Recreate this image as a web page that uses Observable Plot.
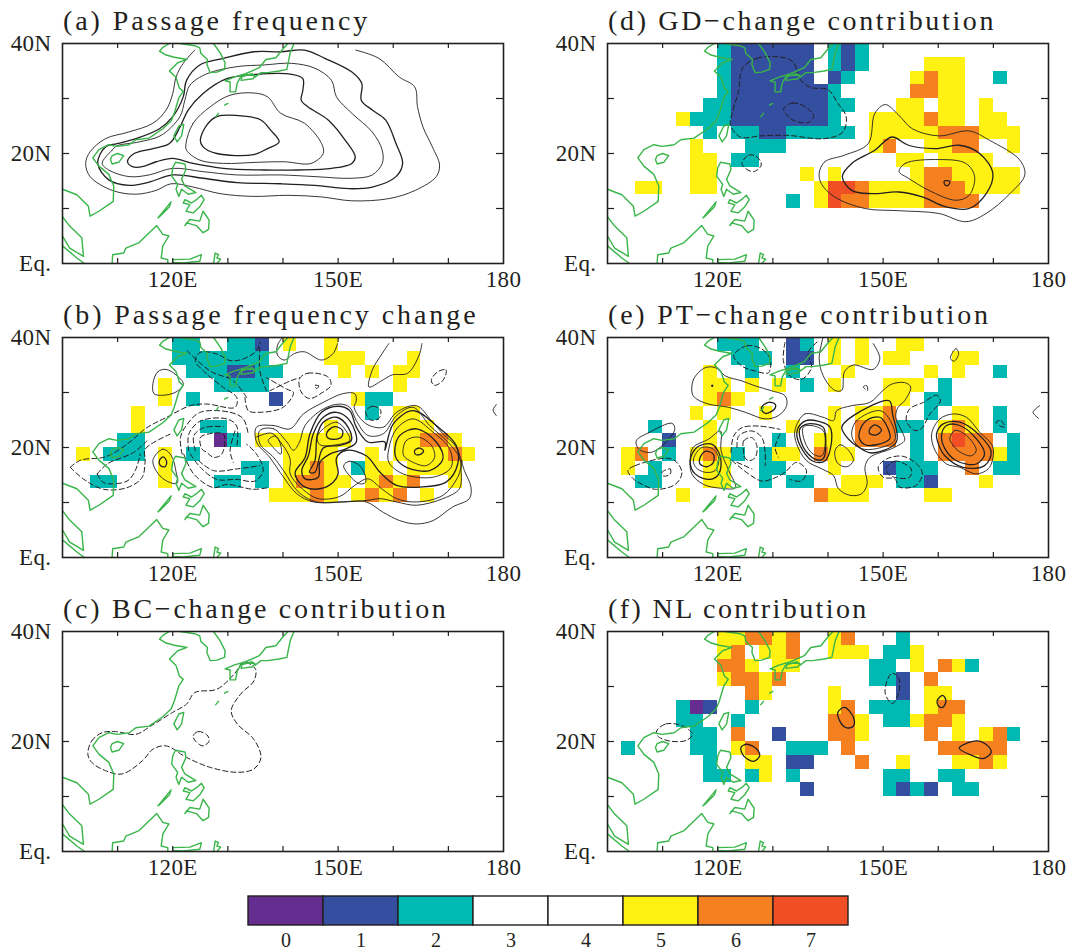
<!DOCTYPE html>
<html><head><meta charset="utf-8">
<script src="https://cdn.jsdelivr.net/npm/d3@7"></script>
<script src="https://cdn.jsdelivr.net/npm/@observablehq/plot@0.6"></script>
<style>
html,body{margin:0;padding:0;background:#fff;width:1067px;height:951px;overflow:hidden}
#page{position:relative;width:1067px;height:951px}
#page svg{position:absolute;background:transparent;overflow:visible}
.ttl{position:absolute;font:28px "Liberation Serif",serif;letter-spacing:2.93px;color:#231f20;white-space:pre;line-height:30px}
</style></head><body><div id="page"></div>
<script>
// ---------- legend ----------
const levels=[0,1,2,3,4,5,6,7];
const levelColors=["#662d91","#344ea0","#00b9b2","#ffffff","#ffffff","#fff212","#f58020","#f04e25"];
// ---------- ticks ----------
const lonTicks=[110,120,130,140,150,160,170];
const latTicks=[10,20,30];
const lonLabelTicks=[120,150,180];
const lonLabels=["120E","150E","180"];
const latLabelTicks=[0,20,40];
const latLabels=["Eq.","20N","40N"];
// ---------- coastline (lon,lat) ----------
const coastOpen=[
[[119.4,40],[118.2,39.3],[117.6,38.6],[118.8,37.9],[120.3,37.5],[122.6,37.1],[120.9,36.5],[119.4,35],[120.6,33.8],[121.2,31.9],[121.9,31.3],[121.1,30.1],[120.3,27.4],[119.7,25.9],[118.2,24.5],[115.7,22.8],[113.3,22.5],[112.1,21.6],[109.9,21.3],[108.4,21.6],[106.6,20.7],[105.5,19.2],[106.6,17.7],[108.4,16.2],[109.3,14.1],[109.2,11.3],[106.6,9.5],[105,8.6],[104.7,10.4],[102.6,12.5],[100,13.5]],
[[121.3,40],[124,39.6],[124.9,39.2],[125.1,38.2],[126.3,37.1],[126.2,36.2],[126.8,34.7],[128,34.8],[129.4,35.3],[129.5,36.5],[128.6,38.3],[127.4,40]],
[[140.9,40],[139.9,38.9],[138.7,37.4],[136.9,37.1],[135.7,35.6],[133.2,34.5],[131.1,33.9],[129.5,33.2],[130.4,33],[130.4,31.2],[131.4,31.2],[131.7,32.8],[132.3,33.9],[134.4,34.5],[135,33.9],[136,34.7],[137.2,34.7],[139.3,35],[140.7,35.3],[141.3,38.3],[142,40]],
[[109,0],[109.1,1.6],[111.1,1.9],[111.5,2.8],[113.9,3.8],[117.1,6.9],[118.2,5.3],[119.3,5],[118.2,3.2],[117.9,1],[119.1,0.7],[119.1,0]],
[[100,8.5],[101.3,6.8],[103.5,4.7],[103.8,1.3],[101.3,2.8],[100,5]],
[[100,3.2],[102.6,1],[104,0]],
[[120,0],[120,0.7],[123.1,0.8],[125.2,1.6],[124.9,0.4],[121.9,0.1],[120,0.2]],
[[127.4,0],[127.7,1.9],[128.3,1.6],[128,1],[128.7,0.8],[128,0]],
[[129.4,28.8],[130,29.1]],
[[127.8,26.7],[128.3,27.3]]
];
const coastClosed=[
[[132.4,33.3],[134.6,33.6],[134.9,34.2],[132.6,34.2]],
[[122,25.3],[121.1,25],[120.2,23.2],[120.8,22.1],[121.6,23.2]],
[[109,19.6],[110,20],[111.1,19.6],[110.2,18.4],[109,18.1],[108.7,18.9]],
[[120.5,18.4],[122.2,18.1],[122.4,17.1],[121.6,15.3],[122.2,14.1],[124.2,12.9],[122.8,12.6],[121.6,13.5],[121.1,12.2],[120.6,13.5],[120.9,14.4],[119.8,15.9],[120,17.4]],
[[122.2,11.6],[123.4,11],[124.3,11.6],[125.2,12.4],[125.7,11.6],[124.9,10.3],[123.7,9.2],[122.4,9.5],[123.1,10.7],[121.9,11]],
[[122.2,6.9],[123.1,8],[124.9,7.7],[125.5,9.5],[126.6,7.9],[126.5,6.2],[125.5,5.6],[124.3,6.9],[122.5,7.4]],
[[117.3,8.3],[119.7,11.2],[119.4,10.3],[117.6,8.5]]
];
// ---------- shaded cells: [row from north, first col, last col, level] on a 2.5 degree grid ----------
const bRuns=[[0,8,9,2],[0,12,13,2],[0,14,14,1],[0,16,16,5],[0,19,19,5],[1,8,14,2],[1,19,21,5],[1,25,25,5],[2,9,11,2],[2,12,13,1],[2,14,15,2],[2,20,20,5],[2,22,22,5],[2,24,25,5],[3,7,7,5],[3,11,14,2],[3,24,24,5],[4,7,7,5],[4,9,9,2],[4,15,15,1],[4,21,21,5],[4,22,23,2],[5,5,5,5],[5,22,22,2],[5,24,25,5],[6,5,5,5],[6,10,11,2],[6,19,19,5],[6,24,26,5],[7,4,5,2],[7,11,11,0],[7,12,12,2],[7,14,20,5],[7,24,25,5],[7,26,27,6],[7,28,28,5],[8,1,1,5],[8,3,5,2],[8,7,7,5],[8,9,9,2],[8,16,19,5],[8,22,22,5],[8,24,27,5],[8,28,28,6],[8,29,29,5],[9,7,7,5],[9,13,14,2],[9,16,17,5],[9,18,18,6],[9,19,19,5],[9,21,21,2],[9,22,23,5],[9,25,28,5],[10,2,3,2],[10,7,7,5],[10,11,12,2],[10,14,14,2],[10,16,16,5],[10,17,18,6],[10,19,20,5],[10,22,22,5],[10,23,23,6],[10,24,24,5],[10,25,25,6],[10,28,28,5],[11,15,17,5],[11,18,18,6],[11,19,19,5],[11,21,21,5],[11,22,22,6],[11,23,23,5],[11,24,24,6],[11,26,26,5]];
const dRuns=[[0,8,8,2],[0,9,14,1],[0,16,16,2],[0,17,17,1],[0,18,18,2],[1,8,8,2],[1,9,14,1],[1,16,16,2],[1,17,17,1],[1,18,18,2],[1,23,25,5],[2,8,8,2],[2,9,14,1],[2,16,16,1],[2,17,17,2],[2,22,22,5],[2,23,23,6],[2,24,25,5],[2,28,28,2],[3,8,8,2],[3,9,15,1],[3,16,16,2],[3,22,23,6],[3,24,25,5],[4,7,8,2],[4,9,15,1],[4,16,17,2],[4,21,22,5],[4,24,25,5],[4,27,27,5],[5,5,5,5],[5,6,8,2],[5,9,15,1],[5,16,16,2],[5,19,22,5],[5,23,23,6],[5,24,25,5],[5,27,28,5],[6,7,7,2],[6,9,10,2],[6,11,12,1],[6,13,17,2],[6,19,23,5],[6,24,26,6],[6,27,29,5],[7,6,6,5],[7,10,12,2],[7,19,19,5],[7,20,20,6],[7,23,24,5],[7,25,26,6],[7,29,29,5],[8,6,7,5],[8,9,10,2],[8,21,22,5],[8,24,27,5],[9,6,7,5],[9,14,14,5],[9,16,16,5],[9,22,22,5],[9,23,24,6],[9,25,29,5],[10,2,3,5],[10,6,7,5],[10,15,15,5],[10,16,17,7],[10,18,18,6],[10,19,22,5],[10,23,25,6],[10,26,29,5],[11,13,13,2],[11,15,15,5],[11,16,16,7],[11,17,18,6],[11,19,22,5],[11,23,26,6]];
const eRuns=[[0,8,10,2],[0,13,13,1],[0,14,14,2],[0,16,16,5],[0,18,18,5],[0,21,22,5],[1,9,11,2],[1,13,14,1],[1,16,16,5],[1,18,18,5],[1,20,21,5],[1,25,26,5],[2,7,7,5],[2,10,10,2],[2,13,13,2],[2,17,17,5],[2,23,23,5],[2,25,25,5],[2,28,28,2],[3,7,8,5],[3,10,10,5],[3,12,12,5],[3,14,14,2],[3,16,16,5],[3,20,22,5],[3,24,24,2],[4,7,7,5],[4,8,8,6],[4,9,9,5],[4,20,21,5],[4,23,24,2],[5,6,6,5],[5,8,8,5],[5,11,11,5],[5,16,16,5],[5,18,19,5],[5,20,20,6],[5,23,23,2],[5,25,26,5],[5,28,28,2],[6,3,3,2],[6,7,7,5],[6,13,13,5],[6,16,16,5],[6,18,20,6],[6,21,22,2],[6,24,24,5],[6,25,25,6],[6,26,26,5],[6,28,28,2],[7,4,4,1],[7,7,7,5],[7,12,12,2],[7,15,16,5],[7,18,20,6],[7,22,22,2],[7,24,24,6],[7,25,25,7],[7,26,27,6],[7,29,29,2],[8,1,1,5],[8,2,2,6],[8,4,4,2],[8,6,6,5],[8,7,7,6],[8,8,8,5],[8,9,9,2],[8,11,11,2],[8,12,13,5],[8,15,15,6],[8,16,17,5],[8,22,22,2],[8,24,27,6],[8,28,28,5],[8,29,29,2],[9,1,1,5],[9,3,3,2],[9,7,8,5],[9,11,12,2],[9,16,16,5],[9,20,20,1],[9,21,23,2],[9,26,26,6],[9,28,29,2],[10,2,3,2],[10,7,8,5],[10,11,11,2],[10,13,14,2],[10,17,19,5],[10,21,22,2],[10,23,23,1],[10,27,27,5],[11,5,5,5],[11,15,15,6],[11,16,18,5],[11,23,24,5]];
const fRuns=[[0,8,9,5],[0,10,11,6],[0,12,12,5],[0,13,13,6],[0,16,16,5],[0,17,17,6],[0,21,21,2],[1,8,8,5],[1,9,9,6],[1,11,12,5],[1,13,13,6],[1,16,18,5],[1,20,21,2],[1,22,22,5],[2,8,9,6],[2,10,10,5],[2,12,13,5],[2,19,20,2],[2,22,22,5],[2,24,24,6],[2,25,25,5],[2,26,26,2],[3,8,8,5],[3,9,10,6],[3,11,11,5],[3,12,12,6],[3,19,20,2],[3,21,21,1],[3,23,23,6],[4,10,10,6],[4,11,11,5],[4,16,16,5],[4,21,21,1],[4,23,24,5],[5,5,5,2],[5,6,6,0],[5,7,7,1],[5,10,10,2],[5,16,16,5],[5,17,17,6],[5,19,21,2],[5,23,23,5],[5,24,25,6],[6,5,6,2],[6,9,9,2],[6,16,17,6],[6,18,18,5],[6,20,21,2],[6,22,22,5],[6,23,24,6],[6,25,25,5],[7,6,7,2],[7,9,9,6],[7,12,12,1],[7,16,17,6],[7,18,18,5],[7,23,23,6],[7,25,25,5],[7,27,27,5],[7,28,28,6],[7,29,29,2],[8,1,1,2],[8,6,7,2],[8,9,9,5],[8,10,10,6],[8,13,15,2],[8,17,17,6],[8,24,28,6],[9,7,7,2],[9,10,11,5],[9,13,14,1],[9,18,18,6],[9,21,21,5],[9,25,26,5],[9,27,27,6],[9,28,28,5],[10,7,8,2],[10,10,10,2],[10,11,11,5],[10,13,13,2],[10,20,21,2],[10,24,25,2],[11,14,14,1],[11,20,20,2],[11,21,21,1],[11,22,22,2],[11,23,23,1],[11,25,26,2]];
// ---------- contours (lon,lat) ----------
const aOpenThin=[[[124,38.8],[121.9,36.4],[120.6,33.9],[120,30.9],[118.8,27.9],[116.4,25.5],[112,23.9],[107.8,22.7],[105,20.3],[104.2,18.2],[105,15.8],[109,13.3],[113.3,12.6],[117,13.3],[119.7,14.5],[123.7,13.9],[128.6,12.7],[134.7,12.2],[140.9,12.4],[147,12.1],[152.5,11.4],[159.2,11.8],[164,13.3],[167.8,15.8],[168.4,17.9],[167.1,21.2],[165.4,24.8],[164.4,28.5],[163.9,32.1],[161.1,33.9],[157.4,37.3],[153.2,38.8]]];
const aClosedThin=[
[[107.2,18.2],[109,20.6],[109.9,21.4],[113.9,22.1],[117.9,23.3],[121.3,26.7],[122.2,29.7],[123.1,32.4],[126.2,34.5],[131.7,35.8],[136.6,36.1],[141.5,36.4],[145.8,35.5],[148.8,33.3],[149.7,30.3],[152.5,27.3],[156.2,23.9],[158,20.6],[158,18.2],[156.2,16.1],[152.5,15.5],[145.8,15.8],[139.6,16.1],[131.7,16.1],[125.5,16.7],[120,17.3],[115.7,16.1],[112.1,15.8],[108.4,17]],
[[122.4,21.8],[123.7,25.5],[126.8,28.5],[130.4,30.6],[134.7,31],[137.2,30.3],[139.6,27.3],[143.9,25.5],[147,21.8],[147.3,20],[145.1,18.2],[140.2,18.5],[135.3,18.4],[129.2,18.2],[124.9,18.8],[122.5,20.6]]
];
const aClosedBold=[
[[106.4,18.2],[107.8,21.2],[109.9,21.8],[113.3,22.7],[117.6,24.5],[120,26.7],[121.9,30.3],[122.5,33.3],[124.9,36.1],[129.2,37.3],[134.7,38.5],[139.6,38.5],[143.9,38.8],[147.6,37.3],[152.5,34.8],[154.3,32.7],[154.2,29.7],[156.2,27.9],[158.6,26.1],[160.5,21.8],[161.7,18.2],[160.5,15.8],[156.2,13.9],[151.9,13.6],[145.8,14.2],[139.6,14.5],[131.7,14.7],[125.5,15.5],[120,16.1],[115.7,14.8],[112.1,14.2],[108.4,15.2]],
[[111.8,18.5],[113,20],[116.4,20.9],[119.4,21.8],[121.3,24.8],[122.8,27.9],[125.5,30.9],[129.8,33.6],[135.3,34.4],[141.5,34.4],[143.6,33.6],[143.6,31.5],[143.3,29.7],[144.5,28.5],[148.2,26.1],[151.3,22.4],[153.1,19.4],[152.5,18.2],[148.8,17.3],[142.7,17],[136.6,17],[129.2,17.3],[123.7,18.2],[120,19.1],[117,18.5],[114.5,17.6],[112.7,17.6]],
[[125,22.4],[126.2,25.2],[128,26.7],[132.9,26.8],[136,26.1],[137.8,24.2],[139.3,22.1],[137.2,20.9],[134.7,19.8],[128,20],[125.5,21.2]]
];
const bClosedThin=[
[[135.2,23.7],[138.2,24],[141.3,23.4],[143.7,26.1],[147.3,28.2],[150.9,29.8],[153,29.8],[153.3,28.5],[152.9,27.3],[155.1,24.3],[158.2,23.7],[160.6,26.4],[164.2,27.6],[166.9,24.9],[169,22.5],[171.4,20.1],[172.9,15.8],[174.1,12.8],[173.8,10.7],[170.8,9.2],[167.2,6.7],[164.2,6.1],[161.2,6.7],[158.2,8.2],[155.1,10.1],[150.3,10.1],[145.5,10.1],[142.5,11.6],[140.1,14.6],[137.6,18.2],[135.2,21]],
[[135.8,23.1],[138.3,23.4],[140.7,21],[141.9,19.5],[143,21],[144,24],[147.3,27],[150.3,27.9],[152.1,27.3],[153.3,24.9],[155.4,22.2],[158.2,22.5],[160.6,25.8],[163.6,27.3],[166.6,24],[169.9,21],[172,18.2],[172.3,15.8],[172,12.5],[169,10.7],[164.2,9.5],[160.6,10.1],[157.6,10.7],[155.4,10.4],[150.9,10.1],[146.1,10.1],[142.8,11.9],[140.1,15.8],[138.3,18.2],[135.8,20.7]],
[[137.3,21.3],[138.6,22.1],[139.6,20.4],[139.6,18.8],[137.9,20.4]],
[[151,16.7],[152.1,17.5],[154.2,16.4],[155,13.7],[153.9,13.4],[151.8,15.2]],
[[116.4,31.6],[117.3,33.8],[118.8,34.2],[120.6,33.2],[121.9,31.6],[120.6,30.1],[118.2,29.5],[116.6,29.8]],
[[116.4,17.7],[118.2,19.7],[119.7,18.6],[120.6,15.6],[120.8,13.5],[119.1,13.8],[117.3,15.3]],
[[147.3,23.4],[149.7,24.6],[151.6,22.8],[152.1,21.3],[149.7,20.5],[146.7,20.5],[146.2,21.9]],
[[161.8,19.8],[162.4,21.3],[164.5,21.9],[166.9,20.4],[167.5,18.2],[166,16.7],[163,17.6],[161.9,18.5]],
[[159.2,19.8],[160.6,23.4],[163.6,25.2],[167.2,22.8],[170.2,19.8],[170.5,16.4],[167.2,14.6],[161.8,15.2],[159.2,17.3]]
];
const bClosedBold=[
[[158.5,19.5],[160,24.3],[163.6,26.7],[167.8,24],[171.4,20.4],[171.7,17],[169.6,13.7],[164.8,12.8],[160.6,13.1],[157.6,15.5],[155.1,18.5],[151.5,19.5],[149.7,18.1],[150,15.2],[149.1,13.7],[146.7,12.5],[144,12.8],[142.5,14.3],[142.2,15.5],[144,18.2],[144.9,22.5],[147,26.4],[150,27.5],[152.1,26.7],[153.3,23.7],[155.4,21],[158.5,21]],
[[143.4,15.8],[144.6,18.5],[145.5,22.5],[147.3,25.5],[149.7,26.4],[152.1,24.9],[153.3,21],[151.5,19.8],[148.5,18.8],[146.7,17.3],[146.4,14.6],[144,14.3]],
[[144.8,15.5],[145.8,17.6],[146.2,22.2],[147.3,24.6],[149.7,25.5],[151.8,23.7],[152.4,21.3],[150.3,20.4],[147.3,19.9],[145.8,15.5]],
[[148,22.8],[149.4,23.8],[150.8,23.1],[150.6,21.9],[149.1,21.5],[148,21.9]],
[[163.9,19.5],[164.8,19.9],[165.5,19.3],[164.8,18.7],[164,18.8]],
[[160.3,19.8],[161.2,22.2],[164.2,23.4],[167.8,21],[169,17.9],[166.6,15.8],[162.4,16.4],[160.6,17.9]],
[[117.6,17.7],[118.3,18.3],[118.9,17.4],[118.6,16.5],[117.7,16.8]]
];
const bOpenThin=[
[[135.2,21.9],[137.9,22.6],[139.9,20.5],[141.3,17.9],[141.3,15.2],[143.7,12.3],[146.4,10.7],[150.3,11.1],[153,13.1],[155.4,14.3],[157.9,12.5],[160.6,10.7],[164.2,10.1],[169,11.3],[171.7,14.6],[172.5,17.6]],
[[165.2,38.9],[164.7,36.8],[162.6,33.5],[159.8,33.2],[158,32.2],[155.6,31],[156.2,34.1],[158,37.1],[159.2,38.9]],
[[149.9,38.9],[149.1,37.1],[147,35.9],[143.9,37.4],[142.1,37.1],[140.2,35.9],[139,36.8],[139,38.6],[139.9,40]],
[[178.7,27.8],[178.1,26.8],[178.7,25.8]]
];
const bClosedDash=[
[[168.1,33.8],[169.6,34.1],[169,32.2],[167.5,31.3],[166.9,32.2]],
[[143,32.5],[144.5,33.5],[148.2,32.8],[148.7,31.3],[147.3,30.1],[144.8,28.9],[143.3,30.1]],
[[145.8,31.3],[146.5,31.2],[146.1,30.7]],
[[155,26.5],[156.2,27.5],[157.7,26.8],[157.4,25.3],[155.9,25]],
[[125.3,19.7],[125,21.8],[126.2,22.4],[129.2,22.4],[128.9,18.8],[127.4,18.2],[126.2,19.1]]
];
const bOpenDash=[
[[101.4,16.4],[103.3,17.7],[107.8,18.3],[111.7,20.6],[115.3,23.6],[118.9,25.5],[123.2,27.6],[126.2,27.9],[131.3,27.3],[131.6,29.1],[129.2,30.9],[125.6,33.9],[124.1,35.8],[125,37.3],[128,37],[130.4,35.8],[132.8,36.1],[135.2,37.6],[135.8,39.1]],
[[101.4,16.4],[103.9,14.2],[107.5,12.4],[111.7,12.7],[114.4,14.5],[115,17.6],[115,19.7],[119.5,22.4]],
[[106.3,15.2],[107.5,13.6],[111.7,13.9],[113.2,15.8],[114.1,18.8]],
[[106.3,15.2],[108.1,17],[112.9,19.1],[115.3,21.2]],
[[121.7,18.8],[121.4,21.8],[122.6,24.2],[125,26.4],[130.4,26.4],[132.8,25.2],[133.7,22.4]],
[[122.9,19.4],[122.9,22.4],[125,24.8],[129.8,25.2],[131.6,23.9],[131.6,20]],
[[124.1,19.4],[123.8,22.1],[125.6,23.6],[129.2,23.8]],
[[122,18.8],[123.8,15.2],[127.4,12.7],[129.8,13.3],[134.6,12.4],[137.3,12.7]],
[[123.2,18.8],[125,16.4],[128,14.2],[131.6,14.2],[134.9,13.9],[136.4,15.8],[135.2,18.8],[133.4,20.6]],
[[124.7,17.6],[127.4,15.8],[131.6,16.1],[135.8,16.7]],
[[131.3,23],[130.4,19.4],[131,17.3]],
[[133.1,29.1],[133.7,26.7],[135.8,26.4],[140,27.3],[141.9,30],[140.7,30.6],[137,32.7]],
[[137.6,30.3],[141.3,32.1],[143,32.7]],
[[122.6,37.6],[126.8,33.9],[131,32.1],[133.4,29.1]],
[[135.8,38.2],[135.8,33.9],[137,30.3]]
];
const cClosedDash=[
[[104.6,17.7],[105.3,20.1],[107.2,21.6],[109.6,21.8],[113.3,21.3],[116,22.8],[120,25.3],[122.5,26.8],[124,28.9],[128,29.5],[131.1,32.2],[132.9,34.4],[135,33.2],[134.7,31],[132.3,28.6],[130.6,25.6],[131.7,23.2],[134.7,20.4],[136,17.1],[134.7,15],[131.7,14.4],[126.8,15.3],[122.5,17.1],[118.8,19.2],[116.4,18.6],[114.5,16.5],[110.8,14.1],[107.8,14.7],[105.3,16.2]],
[[123.7,21],[124.6,21.8],[126.2,21.2],[126.6,20.1],[125.5,19.2],[124.2,20]]
];
const dClosedDash=[
[[124.7,35.8],[127.1,37.3],[130.8,37.6],[133.6,36.7],[135.1,33.3],[136.9,32],[140,31.6],[141.8,29.1],[143.3,26.7],[142.7,23.9],[139.4,22.7],[132.6,23.3],[127.8,23.2],[124.1,23],[122.3,25.2],[122.6,27.3],[123.8,31.5],[124.1,34.2]],
[[132,28.2],[133.6,29.2],[136.3,28.2],[137.4,26.7],[136.3,25.6],[133.6,26.1],[132.3,27.3]],
[[124.4,18.2],[125.6,19.7],[127.1,19.4],[127.9,17.9],[126.5,16.7],[125,17.3]]
];
const dClosedThin=[
[[138.4,16.4],[139.4,18.5],[143,19.7],[147.3,21.8],[148.5,27.3],[150.4,28.9],[152.8,27],[155.3,24.5],[160.1,23.2],[165.6,24.1],[169.3,22.4],[174.8,18.8],[175.7,16.1],[173,12.7],[168.7,9.1],[165,7.6],[160.1,9.1],[152.8,9.6],[146.7,10],[141.2,12.1],[138.8,14.5]],
[[152.9,16.7],[154,18.2],[160.1,18.9],[165,18.2],[166.6,15.8],[165.6,12.4],[163.2,11.5],[158.3,13.3],[154.6,15.5]]
];
const dClosedBold=[
[[142.6,15.8],[144.3,18.2],[148.5,20.6],[151.6,23],[154.6,21.5],[159.5,20.9],[163.8,21.5],[167.5,20],[169.9,16.4],[168.7,12.7],[165.6,10],[161.4,10.3],[157.1,12.1],[152.8,13],[147.9,12.7],[144.3,13.3]],
[[161.1,15],[162.1,14.9],[161.8,14.2],[161.2,14.3]]
];
const eClosedThin=[
[[134,23.1],[135.8,26.1],[139.1,25.5],[141,24.9],[141.6,26.7],[144.3,27.6],[147.6,28.2],[150,30.4],[151.5,31.5],[153.9,31.8],[155,31],[153.9,28.5],[152.7,27.3],[152.3,25.5],[153.6,22.5],[153.9,21.3],[151.8,19.9],[147.6,18.2],[146.7,16.4],[147.1,13.4],[146.1,11.6],[144,11.3],[141.9,12.5],[141,14.9],[138.9,16.1],[136.1,17.6],[134.3,20.7]],
[[141.3,19.5],[142.2,20.5],[143.7,19.5],[144.6,17.6],[143.4,16.5],[141.9,17],[141.3,18.2]],
[[135.5,23.7],[137,24],[139.1,23.1],[139.5,21.3],[138.9,18.5],[137.3,18.8],[135.8,21]],
[[144.3,22.8],[145.2,24.9],[149.4,26.7],[151.3,24.9],[152.1,21.3],[148.8,19.8],[146.1,19.8],[144.6,21.3]],
[[158.8,22.5],[160.3,25.2],[162.7,26.1],[165.1,25.5],[167.5,22.8],[169.9,20.1],[169.3,16.4],[166.9,15.2],[163.9,16.4],[161.5,17],[159.4,19.5]],
[[162.1,21.6],[163,23.1],[165.1,22.2],[166.9,19.5],[166,18.5],[163.9,19.2],[162.7,20.4]],
[[162.2,36.2],[163.2,38],[163.7,37.1],[162.9,35.7]],
[[115.4,29.7],[115.6,32.4],[117.7,34.5],[119.6,34.5],[121.4,33],[124.4,32.1],[126.8,31.2],[129.8,30.3],[132.2,29.4],[132.5,27.6],[131,25.8],[128.6,25.2],[125,26.4],[122,27.3],[118.3,27.9],[116.2,28.8]],
[[105.2,21.2],[107.5,22.7],[111.7,24.4],[112.2,23.3],[110.2,20.6],[107.8,19.1],[105.7,19.7]],
[[115,17.9],[115.5,20],[118.3,21.5],[120.5,23],[120.6,19.4],[122,15.8],[123.2,12.7],[120.5,12.6],[117.4,13.3],[115.3,15.2]],
[[115.6,17.9],[117.1,20],[119.2,19.7],[120.2,17.9],[119.5,15.8],[117.7,15.5],[116,16.4]]
];
const eClosedBold=[
[[147.5,23.2],[148.5,24.1],[149.7,23.2],[148.8,22.3],[147.6,22.5]],
[[145.7,22.8],[147,24.9],[149.4,25.5],[150.9,23.4],[151.2,21.6],[148.8,20.5],[146.7,20.5],[145.7,21.6]],
[[142.5,23.7],[144.6,25.8],[151.1,28.5],[151.7,26.1],[152.4,21],[147.9,19],[145.5,20.1],[143.4,21.9]],
[[134.4,23.1],[136,24.9],[140.1,24],[140.7,22.2],[139.5,17.6],[137.3,17.5],[134.9,20.4]],
[[134.9,23.4],[136.4,24.3],[139.1,23.7],[139.6,21.3],[139.1,17.9],[137.6,17.9],[135.5,20.1]],
[[160.6,22.2],[161.5,24],[163.9,24],[166.9,21.6],[168.4,18.8],[166.9,17],[163.3,17.6],[161.2,19.8]],
[[159.7,22.5],[160.9,24.3],[163.9,24.6],[167.5,22.2],[169.6,19.2],[168.4,16.7],[164.5,16.4],[161.2,18.5],[160,20.7]],
[[127.9,27.2],[129.2,28.2],[130.4,27.9],[130.3,27],[128.6,26.2]],
[[115,17.6],[116.2,20],[118.9,20.6],[120.5,18.2],[120.2,15.2],[118.6,14.2],[115.9,15.2]],
[[116.7,17.9],[117.7,19.3],[119.2,18.8],[119.2,17.3],[118,16.5],[116.8,17]],
[[118.9,31.3],[119.1,31.3],[119,31.1]]
];
const eOpenThin=[
[[139.1,40],[138.4,36.2],[139.1,33.1],[141.2,30.4],[142.5,30.4],[143,33.8],[144.6,35],[148.2,34.2],[149.4,36.2],[148.2,38.9]],
[[178.4,27.6],[177.2,26.4],[178.2,25.3]]
];
const eClosedDash=[
[[122.9,36.7],[125.3,38.5],[128,37.9],[129.5,36.1],[129.2,33.6],[126.8,33.9],[124.4,34.8]],
[[103.7,15.8],[105,16.7],[111.7,17.9],[113.5,15.5],[112.3,13.3],[108.7,12.4],[106.3,13.3],[104.8,14.2]],
[[109.9,15.5],[111.4,16.1],[111.4,15.2],[110.2,14.8]],
[[124.7,19.1],[124.7,21.2],[126.2,21.8],[127.1,20.3],[126.8,18.2],[125.6,17.6],[124.7,18.5]],
[[155.7,23.1],[154.2,24.9],[154.8,27],[157.3,28.2],[159.7,29.5],[160.4,28.5],[158.5,26.1],[156.9,23.4]],
[[149.1,16.4],[150.6,17.9],[153.6,18.4],[156.4,16.7],[157.1,15.2],[156,13.1],[153,12.8],[152.1,14.3],[150,14.6]],
[[150.6,16.4],[152.1,17.5],[153.3,17.3],[155.1,16.1],[154.8,14.6],[152.4,14.5],[150.9,15.2]],
[[170.5,24.6],[171.4,24.9],[172,23.7],[171.1,24]],
[[146.4,31],[147,31.3],[147.2,30.4]]
];
const eOpenDash=[
[[132.2,39.1],[131.9,35.8],[133.1,33],[135.2,32.4],[137,34.5],[136.4,37.3],[138.3,39.4]],
[[122.4,19.1],[122.9,22.1],[124.4,23.6],[127.4,23.9],[131.3,23.3]],
[[123.5,20],[123.8,22.1],[126.2,23],[128,21.8],[128.6,19.1],[128.6,16.7]],
[[122.6,17.6],[125.6,15.2],[128,13.9],[130.4,14.5],[132.2,15.5],[134.3,17.3],[136.1,15.8],[135.2,13.9],[133.1,14.2]],
[[123.5,17.3],[126.2,16.1]],
[[131.3,22.4],[130.4,20],[131,18.2]]
];
const fClosedDash=[
[[108.9,21.9],[110.6,23.2],[113.7,22.8],[115.4,21.3],[114.3,20.2],[111.2,20.1],[109.1,21]],
[[151.6,32.4],[152.8,31.6],[152.9,29.2],[151.7,26.9],[150.4,28.6],[150.7,31]]
];
const fClosedBold=[
[[124.2,18.9],[125.3,19.5],[127.1,18.6],[127.6,17.4],[126.5,16.4],[124.7,17.4]],
[[141.8,25.3],[143,26.2],[144.6,24.4],[144.6,22.8],[143.3,22.5],[142.1,23.8]],
[[159.8,27.4],[160.8,28.4],[161.4,27.4],[160.8,26.2],[160,26.5]],
[[163.8,18.8],[166.9,20.1],[169,19.2],[169.6,18],[168.1,16.9],[166.3,17.4]]
];
// ---------- panel titles ----------
const titles={a:"(a) Passage frequency",b:"(b) Passage frequency change",c:"(c) BC\u2212change contribution",d:"(d) GD\u2212change contribution",e:"(e) PT\u2212change contribution",f:"(f) NL contribution"};

const ink="#231f20",green="#39b54a";
const titleSpacing={a:2.93,b:2.93,c:2.74,d:2.66,e:2.81,f:2.4};
const toCells=runs=>runs.flatMap(([r,c0,c1,v])=>d3.range(c0,c1+1).map(c=>({lon:100+c*2.5,lat:40-r*2.5,v})));
const toRows=lines=>lines.flatMap((pts,id)=>pts.map(([lon,lat])=>({lon,lat,id})));
const lineMark=(lines,closed,width,opts={})=>lines&&lines.length?Plot.line(toRows(lines),{x:"lon",y:"lat",z:"id",curve:closed?"catmull-rom-closed":"catmull-rom",stroke:opts.stroke||ink,strokeWidth:width,strokeDasharray:opts.dash,clip:true}):null;
const coastMark=(lines,closed)=>Plot.line(toRows(lines),{x:"lon",y:"lat",z:"id",curve:closed?"linear-closed":"linear",stroke:green,strokeWidth:1.4,clip:true});

function panel(key,left,top,spec){
  const W=left===0?530:522,ml=62,mr=W-ml-441,mt=10,mb=32,ih=220;
  const dash="5,3";
  const marks=[
    spec.runs?Plot.rect(toCells(spec.runs),{x1:"lon",x2:d=>d.lon+2.5,y1:d=>d.lat-2.5,y2:"lat",fill:"v",shapeRendering:"crispEdges"}):null,
    lineMark(spec.openThin,false,0.9),
    lineMark(spec.closedThin,true,0.9),
    lineMark(spec.closedBold,true,1.3),
    lineMark(spec.openDash,false,1,{dash}),
    lineMark(spec.closedDash,true,1,{dash}),
    coastMark(coastOpen,false),
    coastMark(coastClosed,true),
    Plot.tickX(lonTicks,{x:d=>d,insetTop:ih-5,stroke:ink,strokeWidth:1.2}),
    Plot.tickX(lonTicks,{x:d=>d,insetBottom:ih-5,stroke:ink,strokeWidth:1.2}),
    Plot.tickY(latTicks,{y:d=>d,insetRight:441-7,stroke:ink,strokeWidth:1.2}),
    Plot.tickY(latTicks,{y:d=>d,insetLeft:441-7,stroke:ink,strokeWidth:1.2}),
    Plot.frame({stroke:ink,strokeWidth:1.6}),
    Plot.axisX(lonLabelTicks,{anchor:"bottom",label:null,tickSize:0,tickPadding:7,tickFormat:d=>lonLabels[lonLabelTicks.indexOf(d)],fill:ink}),
    Plot.axisY(latLabelTicks,{anchor:"left",label:null,tickSize:0,tickPadding:11,tickFormat:d=>latLabels[latLabelTicks.indexOf(d)],fill:ink})
  ].filter(Boolean);
  const svg=Plot.plot({width:W,height:mt+ih+mb,marginLeft:ml,marginRight:mr,marginTop:mt,marginBottom:mb,
    x:{domain:[100,180]},y:{domain:[0,40]},
    color:{type:"ordinal",domain:levels,range:levelColors},
    style:{fontFamily:"'Liberation Serif',serif",fontSize:"23px",letterSpacing:"0.4px",overflow:"visible",background:"transparent"},
    marks});
  svg.style.left=left+"px";svg.style.top=(top-mt)+"px";
  const page=document.getElementById("page");
  page.appendChild(svg);
  const t=document.createElement("div");t.className="ttl";t.textContent=titles[key];
  t.style.left=(left+ml+1)+"px";t.style.top=(top-37)+"px";t.style.letterSpacing=titleSpacing[key]+"px";
  page.appendChild(t);
}
const L=0,R=545;
panel("a",L,43,{openThin:aOpenThin,closedThin:aClosedThin,closedBold:aClosedBold});
panel("b",L,337,{runs:bRuns,openThin:bOpenThin,closedThin:bClosedThin,closedBold:bClosedBold,openDash:bOpenDash,closedDash:bClosedDash});
panel("c",L,631,{closedDash:cClosedDash});
panel("d",R,43,{runs:dRuns,closedThin:dClosedThin,closedBold:dClosedBold,closedDash:dClosedDash});
panel("e",R,337,{runs:eRuns,openThin:eOpenThin,closedThin:eClosedThin,closedBold:eClosedBold,openDash:eOpenDash,closedDash:eClosedDash});
panel("f",R,631,{runs:fRuns,closedBold:fClosedBold,closedDash:fClosedDash});

// colour bar
const bar=Plot.plot({width:640,height:60,marginLeft:16,marginRight:21,marginTop:6,marginBottom:25,
  x:{type:"band",domain:levels,padding:0},
  color:{type:"ordinal",domain:levels,range:levelColors},
  style:{fontFamily:"'Liberation Serif',serif",fontSize:"20px",overflow:"visible",background:"transparent"},
  marks:[Plot.cell(levels,{x:d=>d,fill:d=>d,stroke:ink,strokeWidth:1.4}),
         Plot.axisX({anchor:"bottom",label:null,tickSize:0,tickPadding:7,fill:ink})]});
bar.style.left="230px";bar.style.top="890px";
document.getElementById("page").appendChild(bar);
</script></body></html>
